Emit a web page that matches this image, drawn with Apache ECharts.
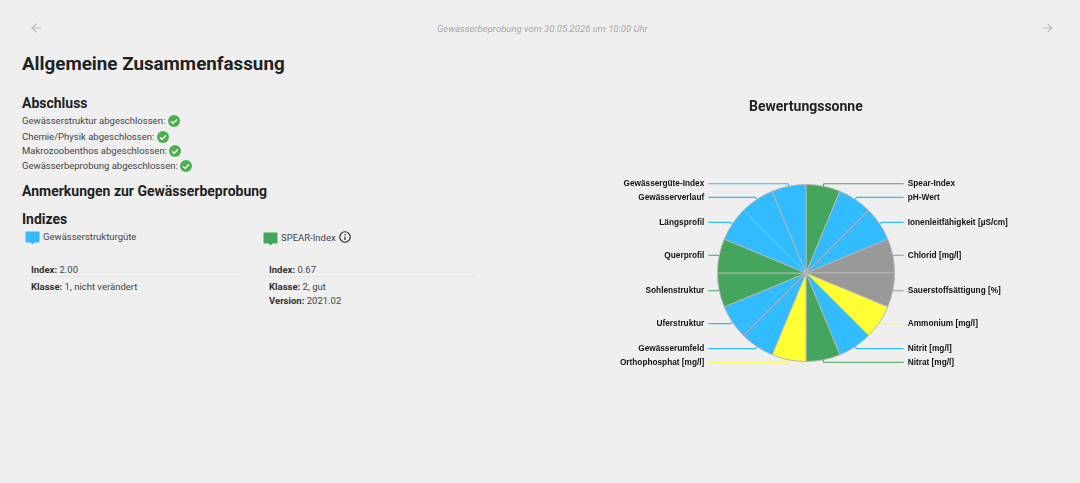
<!DOCTYPE html>
<html lang="de">
<head>
<meta charset="utf-8">
<title>Allgemeine Zusammenfassung</title>
<script src="https://cdn.jsdelivr.net/npm/echarts@6/dist/echarts.min.js"></script>
<style>
html, body { margin: 0; padding: 0; width: 1080px; height: 483px; overflow: hidden; background: #efefef; font-family: Roboto, sans-serif; color: #444; }
.abs { position: absolute; white-space: nowrap; line-height: 14px; }
.rule { position: absolute; left: 22px; width: 1042px; height: 1px; background: #e9e9e9; }
.sub { left: 437px; top: 22px; font-style: italic; font-size: 9.5px; color: #a8a8a8; }
h1, h2 { position: absolute; margin: 0; left: 22px; font-weight: 700; color: #222; white-space: nowrap; }
h1 { top: 52px; font-size: 18.8px; line-height: 24px; }
h2 { font-size: 14px; line-height: 18px; }
.row { left: 22px; font-size: 9.5px; }
.row svg { vertical-align: -3px; margin-left: 0; }
b { font-weight: 700; color: #333; }
.line { position: absolute; height: 1px; background: #e6e6e6; width: 207px; }
#chart { position: absolute; left: 540px; top: 85px; width: 540px; height: 398px; }
</style>
</head>
<body>
<div class="rule" style="top:13px"></div>
<div class="rule" style="top:42px"></div>
<svg class="abs" style="left:29px;top:21px" width="14" height="14" viewBox="0 0 24 24"><path d="M20 11H7.8l5.6-5.6L12 4l-8 8 8 8 1.4-1.4L7.8 13H20z" fill="#bdbdbd"/></svg>
<div class="abs sub">Gewässerbeprobung vom 30.05.2026 um 10:00 Uhr</div>
<svg class="abs" style="left:1041px;top:21px" width="14" height="14" viewBox="0 0 24 24"><path d="M4 11h12.2l-5.6-5.6L12 4l8 8-8 8-1.4-1.4 5.6-5.6H4z" fill="#bdbdbd"/></svg>

<h1>Allgemeine Zusammenfassung</h1>
<h2 style="top:94px">Abschluss</h2>
<div id="checks"></div>
<h2 style="top:182px">Anmerkungen zur Gewässerbeprobung</h2>
<h2 style="top:210px">Indizes</h2>

<svg class="abs" style="left:25px;top:231px" width="15" height="15" viewBox="0 0 15 15"><path d="M1.5 0.5h12a1 1 0 0 1 1 1v9a1 1 0 0 1-1 1H9.5l-2 2-2-2H1.5a1 1 0 0 1-1-1v-9a1 1 0 0 1 1-1z" fill="#33bbff"/></svg>
<div class="abs row" style="left:43px;top:230px">Gewässerstrukturgüte</div>
<div class="abs row" style="left:31px;top:263px"><b>Index:</b> 2.00</div>
<div class="line" style="left:31px;top:276px"></div>
<div class="abs row" style="left:31px;top:280px"><b>Klasse:</b> 1, nicht verändert</div>

<svg class="abs" style="left:263px;top:232px" width="15" height="15" viewBox="0 0 15 15"><path d="M1.5 0.5h12a1 1 0 0 1 1 1v9a1 1 0 0 1-1 1H9.5l-2 2-2-2H1.5a1 1 0 0 1-1-1v-9a1 1 0 0 1 1-1z" fill="#44a55c"/></svg>
<div class="abs row" style="left:281px;top:231px">SPEAR-Index</div>
<svg class="abs" style="left:338px;top:230px" width="14" height="14" viewBox="0 0 24 24"><path d="M11 7h2v2h-2zm0 4h2v6h-2zm1-9a10 10 0 1 0 0 20 10 10 0 0 0 0-20zm0 18a8 8 0 1 1 0-16 8 8 0 0 1 0 16z" fill="#222"/></svg>
<div class="abs row" style="left:269px;top:263px"><b>Index:</b> 0.67</div>
<div class="line" style="left:269px;top:276px"></div>
<div class="abs row" style="left:269px;top:280px"><b>Klasse:</b> 2, gut</div>
<div class="abs row" style="left:269px;top:294px"><b>Version:</b> 2021.02</div>

<div id="chart"></div>

<script>
var checkLabels = ['Gewässerstruktur abgeschlossen:', 'Chemie/Physik abgeschlossen:', 'Makrozoobenthos abgeschlossen:', 'Gewässerbeprobung abgeschlossen:'];

// im Uhrzeigersinn ab 12 Uhr
var categories = ['Spear-Index', 'pH-Wert', 'Ionenleitfähigkeit [µS/cm]', 'Chlorid [mg/l]', 'Sauerstoffsättigung [%]', 'Ammonium [mg/l]', 'Nitrit [mg/l]', 'Nitrat [mg/l]', 'Orthophosphat [mg/l]', 'Gewässerumfeld', 'Uferstruktur', 'Sohlenstruktur', 'Querprofil', 'Längsprofil', 'Gewässerverlauf', 'Gewässergüte-Index'];
var values = [1, 1, 1, 1, 1, 1, 1, 1, 1, 1, 1, 1, 1, 1, 1, 1];
var ratings = ['gut', 'sehrgut', 'sehrgut', 'keine', 'keine', 'maessig', 'sehrgut', 'gut', 'maessig', 'sehrgut', 'sehrgut', 'gut', 'gut', 'sehrgut', 'sehrgut', 'sehrgut'];

var ratingColors = { sehrgut: '#33bbff', gut: '#44a55c', maessig: '#ffff33', keine: '#999999' };

var checkIcon = '<svg width="12" height="12" viewBox="0 0 12 12"><circle cx="6" cy="6" r="6" fill="#4caf50"/><path d="M3 6.2l2.1 2.1L9 4.4" stroke="#fff" stroke-width="1.4" fill="none"/></svg>';
var rowTops = [114, 130, 144, 159];
document.getElementById('checks').innerHTML = checkLabels.map(function (t, i) {
    return '<div class="abs row" style="top:' + rowTops[i] + 'px">' + t + ' ' + checkIcon + '</div>';
}).join('');

var chart = echarts.init(document.getElementById('chart'));
chart.setOption({
    animation: false,
    title: {
        text: 'Bewertungssonne',
        left: 204,
        top: 10,
        textStyle: { fontFamily: 'Roboto', fontSize: 14, fontWeight: 700, color: '#222' }
    },
    series: [{
        type: 'pie',
        center: [266, 188],
        radius: [0, 88.5],
        startAngle: 90,
        clockwise: true,
        avoidLabelOverlap: true,
        itemStyle: { borderColor: '#b5b5b5', borderWidth: 1 },
        label: {
            alignTo: 'labelLine',
            distanceToLabelLine: 4,
            fontFamily: 'Liberation Sans',
            fontSize: 8.25,
            fontWeight: 'bold',
            color: '#111'
        },
        labelLine: { length: 2.5, length2: 8.5, lineStyle: { width: 1.2 } },
        data: categories.map(function (name, i) {
            var color = ratingColors[ratings[i]];
            return { name: name, value: values[i], itemStyle: { color: color }, labelLine: { lineStyle: { color: color } } };
        })
    }]
});
</script>
</body>
</html>
